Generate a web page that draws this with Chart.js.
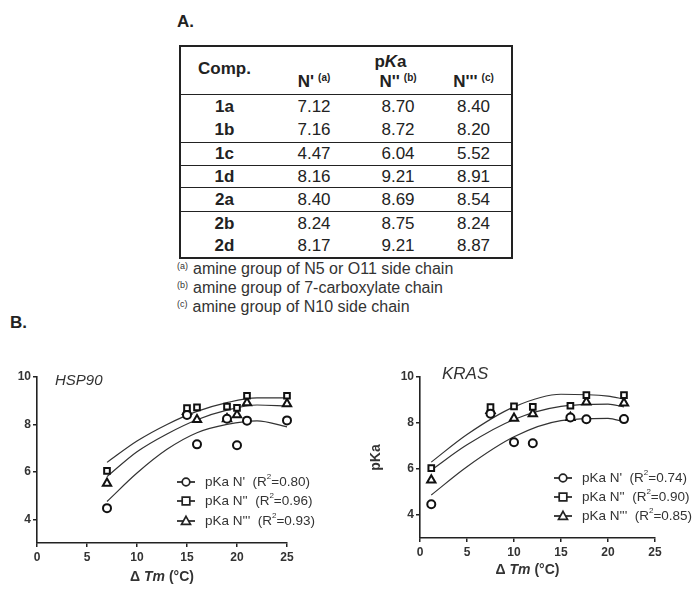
<!DOCTYPE html>
<html>
<head>
<meta charset="utf-8">
<script src="https://cdn.jsdelivr.net/npm/chart.js@4/dist/chart.umd.min.js"></script>
<style>
  html, body { margin: 0; padding: 0; background: #fff; }
  body { width: 700px; height: 595px; position: relative; overflow: hidden;
         font-family: "Liberation Sans", Arial, sans-serif; color: #222; }
  .lbl { position: absolute; font-weight: bold; font-size: 17px; }
  table.pka { position: absolute; left: 179px; top: 45px; width: 332px;
              border-collapse: collapse; border: 2px solid #222; table-layout: fixed; }
  table.pka td { padding: 0; text-align: center; font-size: 17px; line-height: 1; }
  table.pka td.c { font-weight: bold; }
  table.pka tr.sep td { border-bottom: 1.5px solid #222; }
  table.pka .hd { font-weight: bold; }
  table.pka sup { font-size: 10px; font-weight: bold; vertical-align: 6px; margin-left: 4px; }
  .notes { position: absolute; left: 177px; top: 258px; font-size: 16px; line-height: 17px; color: #333; }
  .notes sup { font-size: 9px; vertical-align: 5px; margin-right: 5px; }
  .box { position: absolute; top: 360px; width: 350px; height: 235px; }
</style>
</head>
<body>
<div class="lbl" style="left:177px; top:12px;">A.</div>
<table class="pka">
  <colgroup><col style="width:88px"><col style="width:92px"><col style="width:76px"><col style="width:76px"></colgroup>
  <tr style="height:23px">
    <td class="hd" rowspan="2" style="border-bottom:1.5px solid #222; vertical-align:middle; padding-bottom:4px;">Comp.</td>
    <td colspan="3" class="hd" style="padding-left:2px; padding-top:6px;">p<i>K</i>a</td>
  </tr>
  <tr class="sep" style="height:24px">
    <td class="hd" style="vertical-align:top; padding-top:3px;">N'<sup>(a)</sup></td>
    <td class="hd" style="vertical-align:top; padding-top:3px;">N''<sup>(b)</sup></td>
    <td class="hd" style="vertical-align:top; padding-top:3px;">N'''<sup>(c)</sup></td>
  </tr>
  <tbody id="rows"></tbody>
</table>
<div class="notes">
  <div><sup>(a)</sup>amine group of N5 or O11 side chain</div>
  <div><sup>(b)</sup>amine group of 7-carboxylate chain</div>
  <div><sup>(c)</sup>amine group of N10 side chain</div>
</div>
<div class="lbl" style="left:10px; top:313px;">B.</div>
<div class="box" style="left:0px;"><canvas id="hsp" width="350" height="235"></canvas></div>
<div class="box" style="left:350px;"><canvas id="kras" width="350" height="235"></canvas></div>

<script>
// table data
const compounds = ['1a', '1b', '1c', '1d', '2a', '2b', '2d'];
const pkaN1 = [7.12, 7.16, 4.47, 8.16, 8.40, 8.24, 8.17];
const pkaN2 = [8.70, 8.72, 6.04, 9.21, 8.69, 8.75, 9.21];
const pkaN3 = [8.40, 8.20, 5.52, 8.91, 8.54, 8.24, 8.87];

// delta Tm of each compound on the two targets
const hspDeltaTm = [20, 16, 7, 21, 15, 19, 25];
const krasDeltaTm = [12, 10, 1.2, 17.7, 7.5, 16, 21.7];

// fitted curves
const hspFitX = [7, 10, 13, 16, 19, 22, 25];
const hspFitN1 = [4.75, 5.95, 6.95, 7.65, 8.0, 8.15, 7.9];
const hspFitN2 = [6.4, 7.3, 8.0, 8.55, 8.92, 9.12, 9.12];
const hspFitN3 = [5.8, 6.85, 7.6, 8.2, 8.6, 8.82, 8.78];
const krasFitX = [1.2, 5, 10, 15, 20, 21.7];
const krasFitN1 = [4.87, 6.1, 7.4, 8.1, 8.2, 8.05];
const krasFitN2 = [6.3, 7.5, 8.7, 9.25, 9.17, 9.04];
const krasFitN3 = [5.95, 7.05, 8.15, 8.72, 8.82, 8.7];

const seriesNames = ["N'", "N''", "N'''"];
const hspR2 = ['0.80', '0.96', '0.93'];
const krasR2 = ['0.74', '0.90', '0.85'];
const xTicks = [0, 5, 10, 15, 20, 25];
const yTicks = [4, 6, 8, 10];

const FONT = '"Liberation Sans", Arial, sans-serif';
const INK = '#222';
const markers = ['circle', 'rect', 'triangle'];

// fill table body
const sepAfter = ['1b', '1c', '1d', '2a'];
const rowH = [24, 24, 23, 22, 24, 23.5, 23.5];
const tbody = document.getElementById('rows');
compounds.forEach((c, i) => {
  const tr = document.createElement('tr');
  if (sepAfter.includes(c)) tr.className = 'sep';
  tr.style.height = rowH[i] + 'px';
  tr.innerHTML = `<td class="c">${c}</td><td>${pkaN1[i].toFixed(2)}</td>` +
    `<td>${pkaN2[i].toFixed(2)}</td><td>${pkaN3[i].toFixed(2)}</td>`;
  tbody.appendChild(tr);
});

function drawMarker(ctx, style, x, y) {
  ctx.beginPath();
  if (style === 'circle') {
    ctx.arc(x, y, 3.8, 0, Math.PI * 2);
  } else if (style === 'rect') {
    ctx.rect(x - 3.8, y - 3.8, 7.6, 7.6);
  } else {
    ctx.moveTo(x, y - 4.7);
    ctx.lineTo(x + 4.5, y + 3.4);
    ctx.lineTo(x - 4.5, y + 3.4);
    ctx.closePath();
  }
  ctx.fillStyle = '#fff';
  ctx.fill();
  ctx.stroke();
}

// title, x title with italic Tm, and in-plot legend
const figureText = {
  id: 'figureText',
  afterDraw(chart, args, o) {
    const ctx = chart.ctx;
    const area = chart.chartArea;
    ctx.save();
    ctx.textBaseline = 'middle';
    ctx.fillStyle = '#333';
    ctx.font = `italic ${o.titleSize}px ${FONT}`;
    ctx.fillText(o.title, o.titleX, o.titleY);

    const parts = [['Δ ', 'bold'], ['Tm', 'italic bold'], [' (°C)', 'bold']];
    let total = 0;
    parts.forEach(p => { ctx.font = `${p[1]} 14px ${FONT}`; total += ctx.measureText(p[0]).width; });
    let x = (area.left + area.right) / 2 - total / 2 + o.xTitleShift;
    parts.forEach(p => {
      ctx.font = `${p[1]} 14px ${FONT}`;
      ctx.fillText(p[0], x, o.xTitleY);
      x += ctx.measureText(p[0]).width;
    });

    ctx.strokeStyle = INK;
    ctx.lineWidth = 1.7;
    o.legendY.forEach((y, i) => {
      ctx.beginPath();
      ctx.moveTo(o.legendX - 9, y);
      ctx.lineTo(o.legendX + 9, y);
      ctx.stroke();
      drawMarker(ctx, markers[i], o.legendX, y);
      ctx.fillStyle = '#333';
      let tx = o.legendX + 19;
      const pieces = [
        [`pKa ${seriesNames[i]}  (R`, 13.5, 0],
        ['2', 8, -5],
        [`=${o.r2[i]})`, 13.5, 0]
      ];
      pieces.forEach(p => {
        ctx.font = `${p[1]}px ${FONT}`;
        ctx.fillText(p[0], tx, y + p[2]);
        tx += ctx.measureText(p[0]).width;
      });
    });
    ctx.restore();
  }
};

function makeChart(id, deltaTm, fitX, fits, r2, cfg) {
  const pointSets = [pkaN1, pkaN2, pkaN3].map((vals, i) => ({
    type: 'scatter',
    data: vals.map((v, k) => ({ x: deltaTm[k], y: v })),
    pointStyle: markers[i],
    pointRadius: i === 2 ? 4.8 : 4,
    pointBorderWidth: 2,
    borderColor: '#111',
    backgroundColor: '#fff',
    showLine: false,
    clip: false
  }));
  const curveSets = fits.map(vals => ({
    type: 'line',
    data: vals.map((v, k) => ({ x: fitX[k], y: v })),
    borderColor: '#333',
    borderWidth: 1.2,
    pointRadius: 0,
    cubicInterpolationMode: 'monotone',
    fill: false,
    clip: false
  }));
  const tickFont = { family: FONT, size: 12, weight: 'bold' };
  return new Chart(document.getElementById(id), {
    type: 'scatter',
    data: { datasets: pointSets.concat(curveSets) },
    options: {
      responsive: false,
      animation: false,
      layout: { padding: { left: cfg.padLeft, right: cfg.padRight, top: 17, bottom: 0 } },
      plugins: {
        legend: { display: false },
        tooltip: { enabled: false },
        figureText: cfg.text
      },
      scales: {
        x: {
          type: 'linear', min: 0, max: 25,
          afterBuildTicks: s => { s.ticks = xTicks.map(v => ({ value: v })); },
          afterFit: s => { s.height = cfg.xHeight; },
          grid: { drawOnChartArea: false, drawTicks: true, tickLength: 4, color: INK, lineWidth: 1.5 },
          border: { display: true, color: INK, width: 1.6 },
          ticks: { font: tickFont, color: '#333', padding: 3, maxRotation: 0 }
        },
        y: {
          type: 'linear', min: 3, max: 10,
          afterBuildTicks: s => { s.ticks = yTicks.map(v => ({ value: v })); },
          afterFit: s => { s.width = cfg.yWidth; },
          grid: { drawOnChartArea: false, drawTicks: true, tickLength: 4, color: INK, lineWidth: 1.5 },
          border: { display: true, color: INK, width: 1.6 },
          ticks: { font: tickFont, color: '#333', padding: 2 },
          title: { display: cfg.yTitle, text: 'pKa', color: '#333', font: { family: FONT, size: 14, weight: 'bold' }, padding: 0 }
        }
      }
    },
    plugins: [figureText]
  });
}

makeChart('hsp', hspDeltaTm, hspFitX, [hspFitN1, hspFitN2, hspFitN3], hspR2, {
  padLeft: 0, padRight: 63, yWidth: 37, xHeight: 52, yTitle: false,
  text: { title: 'HSP90', titleSize: 15, titleX: 55, titleY: 21, xTitleY: 217, xTitleShift: 0,
          legendX: 186, legendY: [122, 141, 161], r2: hspR2 }
});
makeChart('kras', krasDeltaTm, krasFitX, [krasFitN1, krasFitN2, krasFitN3], krasR2, {
  padLeft: 18, padRight: 45, yWidth: 52, xHeight: 57, yTitle: true,
  text: { title: 'KRAS', titleSize: 17, titleX: 92, titleY: 14, xTitleY: 210, xTitleShift: -10,
          legendX: 213, legendY: [118, 137, 156], r2: krasR2 }
});
</script>
</body>
</html>
